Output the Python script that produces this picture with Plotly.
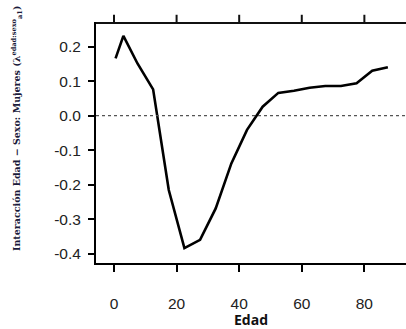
import plotly.graph_objects as go

edad = [0.5, 3, 7.5, 12.5, 17.5, 22.5, 27.5, 32.5, 37.5, 42.5, 47.5, 52.5, 57.5, 62.5, 67.5, 72.5, 77.5, 82.5, 87.5]
valor = [0.166, 0.231, 0.151, 0.076, -0.215, -0.383, -0.359, -0.268, -0.138, -0.041, 0.026, 0.066, 0.072, 0.081, 0.086, 0.086, 0.094, 0.130, 0.140]
xticks = [0, 20, 40, 60, 80]
yticks = [0.2, 0.1, 0.0, -0.1, -0.2, -0.3, -0.4]
xrange_ = [-5.75, 93.3]

fig = go.Figure()
fig.add_trace(go.Scatter(x=edad, y=valor, mode="lines",
                         line=dict(color="black", width=2.6), showlegend=False))
fig.add_hline(y=0, line=dict(color="#555", width=1.3, dash="dot"))

# top frame line and top ticks (axis decoration)
fig.add_shape(type="line", xref="paper", yref="paper", x0=0, x1=1, y0=0.996, y1=0.996,
              line=dict(color="#111111", width=2), layer="above")
for t in xticks:
    fig.add_shape(type="line", xref="x", yref="paper", x0=t, x1=t, y0=0.996, y1=1.03,
                  line=dict(color="#111111", width=2), layer="above")

fig.update_layout(
    width=406, height=329,
    margin=dict(l=96, r=0, t=22, b=66),
    plot_bgcolor="white", paper_bgcolor="white",
    font=dict(family="Liberation Sans, Arial", color="#222", size=15.5),
)
fig.update_xaxes(range=xrange_, tickvals=xticks, ticktext=[str(v) for v in xticks],
                 showline=True, linecolor="black", linewidth=2, mirror=False,
                 ticks="outside", ticklen=7, tickwidth=2, tickcolor="black",
                 showgrid=False, zeroline=False, ticklabelstandoff=18,
                 title=dict(text="<b>Edad</b>", font=dict(family="Open Sans", size=14, color="#111"), standoff=4))
fig.update_yaxes(range=[-0.426, 0.271], tickvals=yticks, ticktext=[f"{v:.1f}" for v in yticks],
                 showline=True, linecolor="black", linewidth=2, mirror=False,
                 ticks="outside", ticklen=6, tickwidth=2, tickcolor="black",
                 showgrid=False, zeroline=False, ticklabelstandoff=4)
fig.add_annotation(
    text="<b>Interacción Edad − Sexo: Mujeres (λ<sup>edad:sexo</sup><sub>a1</sub>)</b>",
    xref="paper", yref="paper", x=-0.255, y=0.56, showarrow=False, textangle=-90,
    font=dict(family="DejaVu Serif", size=9.5, color="#1a1a3a"), xanchor="center", yanchor="middle")

fig.write_html("out.html", config={"displayModeBar": False})
